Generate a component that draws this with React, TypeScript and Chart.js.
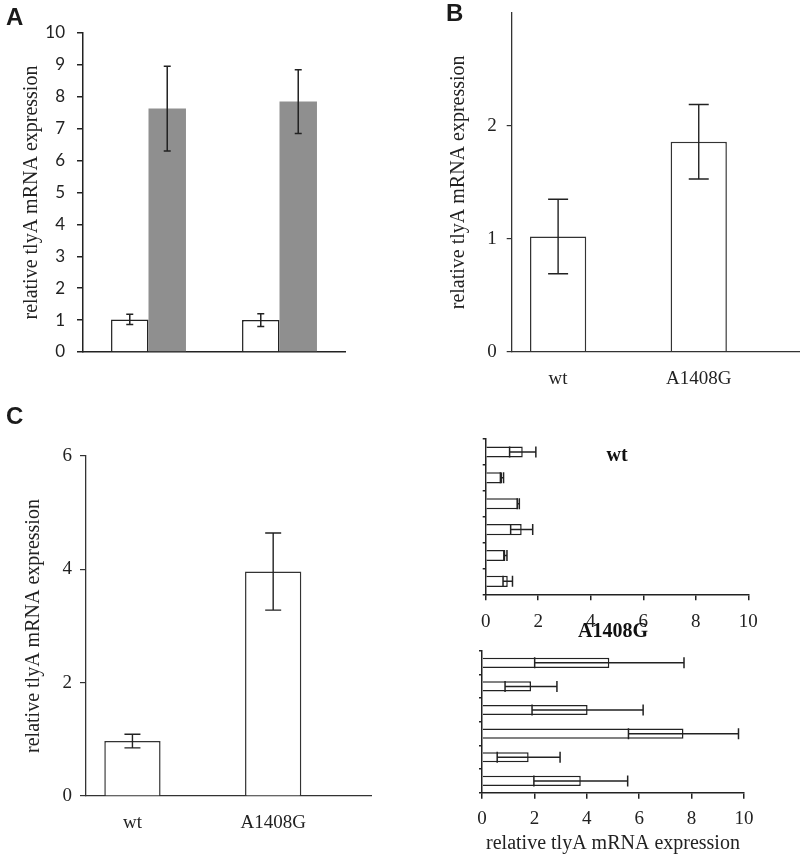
import React, { useEffect, useRef } from 'react';
import { Chart, registerables } from 'chart.js';

Chart.register(...registerables);

// ---------- data ----------
const yTitle = 'relative tlyA mRNA expression';

// Panel A (two groups, white = control, grey = induced)
const panelAGroups = ['group 1', 'group 2'];
const panelAWhite = [1.02, 1.0];
const panelAWhiteErr = [0.16, 0.2];
const panelAGray = [7.63, 7.85];
const panelAGrayErr = [1.33, 1.0];
const panelAYTicks = [0, 1, 2, 3, 4, 5, 6, 7, 8, 9, 10];

// Panel B
const strains = ['wt', 'A1408G'];
const panelBValues = [1.02, 1.86];
const panelBErr = [0.33, 0.33];
const panelBYTicks = [0, 1, 2];

// Panel C (left)
const panelCValues = [0.97, 3.96];
const panelCErr = [0.12, 0.68];
const panelCYTicks = [0, 2, 4, 6];

// Panel C (right, per isolate)
const isolates = ['1', '2', '3', '4', '5', '6'];
const wtIsolateValues = [1.41, 0.62, 1.24, 1.37, 0.75, 0.84];
const wtIsolateErr = [0.5, 0.06, 0.04, 0.42, 0.06, 0.18];
const mutIsolateValues = [4.86, 1.87, 4.03, 7.69, 1.78, 3.77];
const mutIsolateErr = [2.85, 0.99, 2.12, 2.1, 1.2, 1.79];
const isolateXTicks = [0, 2, 4, 6, 8, 10];

// ---------- styles ----------
const SERIF = '"Liberation Serif", "Times New Roman", serif';
const SANS = 'Lato, "Liberation Sans", Arial, sans-serif';
const INK = '#222';
const AXIS = '#333';

const errorBarPlugin = {
  id: 'errorBars',
  afterDatasetsDraw(chart: any, _args: any, opts: any) {
    const ctx = chart.ctx;
    const horizontal = chart.options.indexAxis === 'y';
    const vAxis = horizontal ? 'x' : 'y';
    const scale = chart.scales[vAxis];
    const cap = opts.cap ?? 4;
    ctx.save();
    ctx.strokeStyle = opts.color || INK;
    ctx.lineWidth = opts.width || 1.5;
    chart.data.datasets.forEach((ds: any, i: number) => {
      const errs = ds.errors;
      if (!errs) return;
      const meta = chart.getDatasetMeta(i);
      meta.data.forEach((el: any, j: number) => {
        const parsed = meta.controller.getParsed(j);
        const v = parsed[vAxis];
        const e = errs[j];
        const lo = scale.getPixelForValue(v - e);
        const hi = scale.getPixelForValue(v + e);
        ctx.beginPath();
        if (horizontal) {
          const y = el.y;
          ctx.moveTo(lo, y); ctx.lineTo(hi, y);
          ctx.moveTo(lo, y - cap); ctx.lineTo(lo, y + cap);
          ctx.moveTo(hi, y - cap); ctx.lineTo(hi, y + cap);
        } else {
          const x = el.x;
          ctx.moveTo(x, lo); ctx.lineTo(x, hi);
          ctx.moveTo(x - cap, lo); ctx.lineTo(x + cap, lo);
          ctx.moveTo(x - cap, hi); ctx.lineTo(x + cap, hi);
        }
        ctx.stroke();
      });
    });
    ctx.restore();
  },
};

const baseOptions = {
  responsive: false,
  animation: false as const,
  devicePixelRatio: 1,
  events: [] as any[],
};

const setTicks = (values: number[]) => (s: any) => {
  s.ticks = values.map((v) => ({ value: v }));
};

function configA() {
  return {
    type: 'bar',
    data: {
      labels: panelAGroups,
      datasets: [
        { data: panelAWhite, errors: panelAWhiteErr, backgroundColor: '#ffffff', borderColor: INK, borderWidth: 1.5, categoryPercentage: 0.572, barPercentage: 1 },
        { data: panelAGray, errors: panelAGrayErr, backgroundColor: '#8f8f8f', borderWidth: 0, categoryPercentage: 0.572, barPercentage: 1 },
      ],
    },
    options: {
      ...baseOptions,
      layout: { padding: { top: 33, right: 15, left: 0, bottom: 0 } },
      plugins: { legend: { display: false }, tooltip: { enabled: false }, errorBars: { cap: 3.5, width: 1.5, color: INK } },
      scales: {
        x: {
          grid: { display: false, drawTicks: false },
          ticks: { display: false },
          border: { display: true, color: INK, width: 1.5 },
          afterFit: (s: any) => { s.height = 28; },
        },
        y: {
          min: 0, max: 10,
          afterBuildTicks: setTicks(panelAYTicks),
          ticks: { font: { family: SANS, size: 17 }, color: INK, padding: 12 },
          grid: { drawOnChartArea: false, drawTicks: true, tickLength: 6, color: INK, lineWidth: 1.5 },
          border: { display: true, color: INK, width: 1.5 },
          title: { display: true, text: yTitle, font: { family: SERIF, size: 20 }, color: INK, padding: { top: 20, bottom: 0 } },
          afterFit: (s: any) => { s.width = 83; },
        },
      },
    },
    plugins: [errorBarPlugin],
  };
}

function configStrains(values: number[], errs: number[], yTicks: number[], yMax: number, o: any) {
  return {
    type: 'bar',
    data: {
      datasets: [
        {
          data: strains.map((_, i) => ({ x: i + 1, y: values[i] })),
          errors: errs,
          backgroundColor: '#ffffff', borderColor: AXIS, borderWidth: 1.5,
          categoryPercentage: 1, barPercentage: 0.4,
        },
      ],
    },
    options: {
      ...baseOptions,
      layout: { padding: o.padding },
      plugins: { legend: { display: false }, tooltip: { enabled: false }, errorBars: { cap: o.cap, width: 1.4, color: INK } },
      scales: {
        x: {
          type: 'linear', offset: false, min: 0.67, max: o.xMax,
          afterBuildTicks: setTicks(strains.map((_, i) => i + 1)),
          ticks: { callback: (v: any) => strains[Math.round(v) - 1] ?? '', font: { family: SERIF, size: 19 }, color: INK, padding: o.xPad, maxRotation: 0 },
          grid: { display: false, drawTicks: false, offset: false },
          border: { display: true, color: AXIS, width: 1.3 },
          afterFit: (s: any) => { s.height = o.xH; },
        },
        y: {
          min: 0, max: yMax,
          afterBuildTicks: setTicks(yTicks),
          ticks: { font: { family: SERIF, size: 19 }, color: INK, padding: o.yPad },
          grid: { drawOnChartArea: false, drawTicks: true, tickLength: o.tick, color: AXIS, lineWidth: 1.2 },
          border: { display: true, color: AXIS, width: 1.3 },
          title: { display: true, text: yTitle, font: { family: SERIF, size: 20 }, color: INK, padding: { top: o.titlePad, bottom: 0 } },
          afterFit: (s: any) => { s.width = o.yW; },
        },
      },
    },
    plugins: [errorBarPlugin],
  };
}

function configIsolates(values: number[], errs: number[], title: string, o: any) {
  return {
    type: 'bar',
    data: {
      labels: isolates,
      datasets: [
        { data: values, errors: errs, backgroundColor: '#ffffff', borderColor: INK, borderWidth: 1.5, categoryPercentage: 1, barPercentage: 0.43 },
      ],
    },
    options: {
      ...baseOptions,
      indexAxis: 'y',
      layout: { padding: { top: 0, left: 0, bottom: 0, right: o.right } },
      plugins: {
        legend: { display: false }, tooltip: { enabled: false },
        title: { display: true, text: title, fullSize: false, font: { family: SERIF, size: 20, weight: 'bold' }, color: '#111', padding: o.titlePadding },
        errorBars: { cap: 5.5, width: 1.5, color: INK },
      },
      scales: {
        x: {
          min: 0, max: 10,
          afterBuildTicks: setTicks(isolateXTicks),
          ticks: { font: { family: SERIF, size: 19 }, color: INK, padding: o.xPad },
          grid: { drawOnChartArea: false, drawTicks: true, tickLength: 6, color: INK, lineWidth: 1.5 },
          border: { display: true, color: INK, width: 1.5 },
          title: o.xTitle
            ? { display: true, text: yTitle, font: { family: SERIF, size: 20 }, color: INK, padding: { top: 0, bottom: 0.7 } }
            : { display: false },
          afterFit: (s: any) => { s.height = o.xH; },
        },
        y: {
          grid: { drawOnChartArea: false, drawTicks: true, tickLength: 3, offset: true, color: INK, lineWidth: 1.5 },
          ticks: { display: false },
          border: { display: true, color: INK, width: 1.5 },
          afterFit: (s: any) => { s.width = o.yW; },
        },
      },
    },
    plugins: [errorBarPlugin],
  };
}

function ChartBox({ left, top, width, height, make }: { left: number; top: number; width: number; height: number; make: () => any }) {
  const ref = useRef<HTMLCanvasElement | null>(null);
  useEffect(() => {
    if (!ref.current) return;
    const chart = new Chart(ref.current, make() as any);
    return () => chart.destroy();
  }, []);
  return (
    <canvas
      ref={ref}
      width={width}
      height={height}
      style={{ position: 'absolute', left, top, width, height, display: 'block' }}
    />
  );
}

const letterStyle = (left: number, top: number): React.CSSProperties => ({
  position: 'absolute',
  left,
  top,
  font: 'bold 24px "Liberation Sans", Arial, sans-serif',
  lineHeight: '24px',
  color: '#1a1a1a',
});

export default function App() {
  return (
    <div
      style={{
        position: 'absolute',
        left: 0,
        top: 0,
        width: 800,
        height: 856,
        overflow: 'hidden',
        background: '#ffffff',
      }}
    >
      <ChartBox left={0} top={0} width={360} height={380} make={configA} />
      <ChartBox
        left={440}
        top={-10}
        width={360}
        height={410}
        make={() =>
          configStrains(panelBValues, panelBErr, panelBYTicks, 3, {
            padding: { top: 23, right: 0, left: 0, bottom: 0 },
            xMax: 2.72, xPad: 16, xH: 48.3, yPad: 10, yW: 71.7, tick: 5, titlePad: 6.3, cap: 10,
          })
        }
      />
      <ChartBox
        left={0}
        top={430}
        width={400}
        height={410}
        make={() =>
          configStrains(panelCValues, panelCErr, panelCYTicks, 6, {
            padding: { top: 26, right: 28.3, left: 0, bottom: 0 },
            xMax: 2.7, xPad: 15.5, xH: 44, yPad: 8, yW: 86, tick: 6, titlePad: 21.3, cap: 8,
          })
        }
      />
      <ChartBox
        left={440}
        top={430}
        width={340}
        height={220}
        make={() =>
          configIsolates(wtIsolateValues, wtIsolateErr, 'wt', {
            right: 31.7, xPad: 10, xH: 55.7, yW: 45.7, xTitle: false,
            titlePadding: { top: 14.3, bottom: -29.3 },
          })
        }
      />
      <ChartBox
        left={440}
        top={615}
        width={340}
        height={241}
        make={() =>
          configIsolates(mutIsolateValues, mutIsolateErr, 'A1408G', {
            right: 36, xPad: 8.5, xH: 63.3, yW: 42, xTitle: true,
            titlePadding: { top: 4.7, bottom: 7.3 },
          })
        }
      />
      <div style={letterStyle(6, 5)}>A</div>
      <div style={letterStyle(446, 1)}>B</div>
      <div style={letterStyle(6, 404)}>C</div>
    </div>
  );
}
